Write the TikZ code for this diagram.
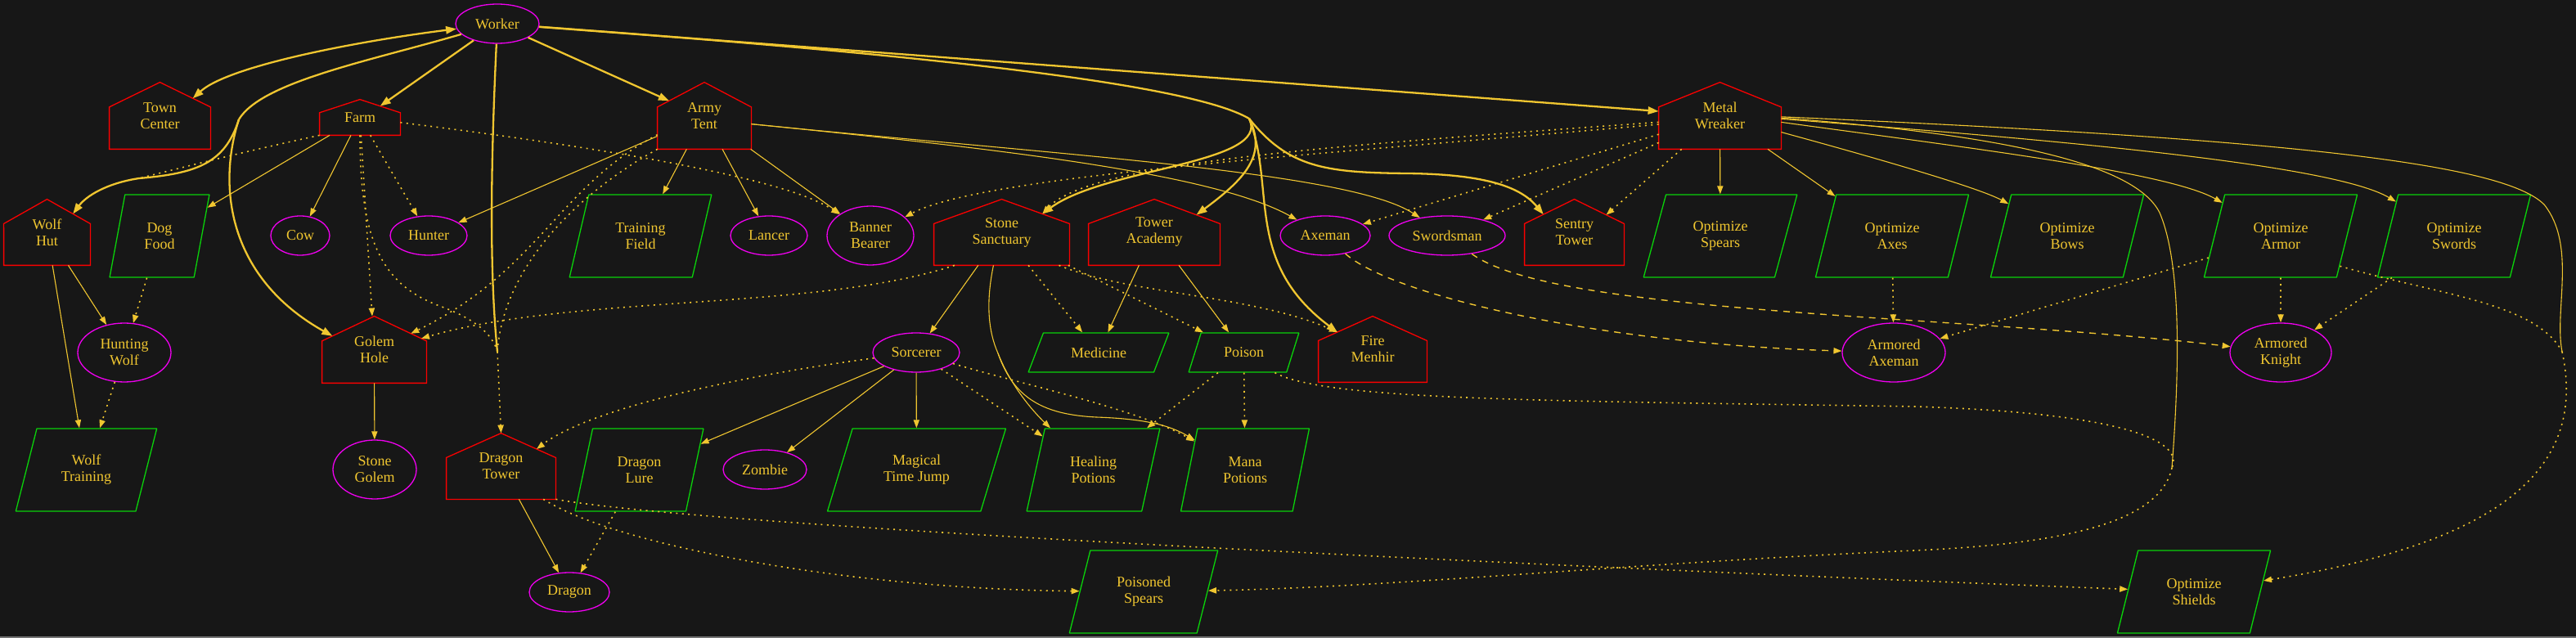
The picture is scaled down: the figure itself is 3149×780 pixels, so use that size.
\documentclass[tikz,border=0pt]{standalone}
\usepackage{fontspec}
\setmainfont{Liberation Serif}
\usetikzlibrary{arrows.meta, shapes.geometric, calc}
\definecolor{bgdark}{RGB}{23,23,23}
\definecolor{goldyellow}{RGB}{240,198,48}
\definecolor{housered}{RGB}{250,0,0}
\definecolor{unitmagenta}{RGB}{240,0,240}
\definecolor{techgreen}{RGB}{10,210,10}
\tikzset{housenode/.style={rectangle, draw=none, inner sep=0pt, text=goldyellow, font=\fontsize{9}{10}\selectfont, align=center},housebody/.style={draw=housered, line width=0.65pt, line join=miter}}
\tikzset{unitnode/.style={ellipse, draw=unitmagenta, line width=0.65pt, inner sep=0pt, text=goldyellow, font=\fontsize{9}{10}\selectfont, align=center}}
\tikzset{technode/.style={trapezium, trapezium left angle=#1, trapezium right angle={180-#1}, trapezium stretches=true, draw=techgreen, line width=0.65pt, inner sep=0pt, text=goldyellow, font=\fontsize{9}{10}\selectfont, align=center}}
\tikzset{thickline/.style={draw=goldyellow, line width=1.15pt, >={Triangle[length=6.5pt, width=4.6pt]}},thinline/.style={draw=goldyellow, line width=0.55pt, >={Triangle[length=5pt, width=3.6pt]}},dotline/.style={draw=goldyellow, line width=0.8pt, dash pattern=on 1pt off 2.7pt, >={Triangle[length=5pt, width=3.6pt]}},dashline/.style={draw=goldyellow, line width=0.7pt, dash pattern=on 4pt off 3.5pt, >={Triangle[length=5pt, width=3.6pt]}}}

\begin{document}
\begin{tikzpicture}[x=0.5pt, y=-0.5pt, line join=bevel]
        \useasboundingbox (0,0) rectangle (3149,780);
        \fill[bgdark] (0,0) rectangle (3149,780);
        \draw[black!55, line width=0.6pt] (0,779) -- (3149,779);
        % Buildings
        \node[housenode, minimum width=61.5pt, minimum height=40.5pt] (towncenter) at (195.5,141.5) {Town\\Center};
        \node[housenode, minimum width=49pt, minimum height=21.5pt] (farm) at (440,143.5) {Farm};
        \node[housenode, minimum width=57pt, minimum height=40.5pt] (armytent) at (861,141.5) {Army\\Tent};
        \node[housenode, minimum width=74.5pt, minimum height=40.5pt] (metalwreaker) at (2102.5,141.5) {Metal\\Wreaker};
        \node[housenode, minimum width=52.5pt, minimum height=40pt] (wolfhut) at (57.5,284) {Wolf\\Hut};
        \node[housenode, minimum width=82.5pt, minimum height=40pt] (stonesanctuary) at (1224.5,284) {Stone\\Sanctuary};
        \node[housenode, minimum width=80pt, minimum height=40pt] (toweracademy) at (1411,284) {Tower\\Academy};
        \node[housenode, minimum width=60.5pt, minimum height=40pt] (sentrytower) at (1924.5,284) {Sentry\\Tower};
        \node[housenode, minimum width=63.5pt, minimum height=40.5pt] (golemhole) at (457.5,427.5) {Golem\\Hole};
        \node[housenode, minimum width=66pt, minimum height=40pt] (firemenhir) at (1678,427) {Fire\\Menhir};
        \node[housenode, minimum width=66.5pt, minimum height=40pt] (dragontower) at (612.5,570) {Dragon\\Tower};
        \foreach \h in {towncenter, farm, armytent, metalwreaker, wolfhut, stonesanctuary, toweracademy, sentrytower, golemhole, firemenhir, dragontower} {
            \draw[housebody] (\h.south west) -- (\h.south east) -- ($(\h.south east)!.63!(\h.north east)$) coordinate (\h-r) -- (\h.north) -- ($(\h.south west)!.63!(\h.north west)$) coordinate (\h-l) -- cycle;
        }
        % Units
        \node[unitnode, minimum width=51pt, minimum height=24pt] (worker) at (608,29) {Worker};
        \node[unitnode, minimum width=36pt, minimum height=24pt] (cow) at (367,288) {Cow};
        \node[unitnode, minimum width=47pt, minimum height=24pt] (hunter) at (524,288) {Hunter};
        \node[unitnode, minimum width=47pt, minimum height=24pt] (lancer) at (940,288) {Lancer};
        \node[unitnode, minimum width=53pt, minimum height=36pt] (bannerbearer) at (1064,288) {Banner\\Bearer};
        \node[unitnode, minimum width=55pt, minimum height=24pt] (axeman) at (1620,288) {Axeman};
        \node[unitnode, minimum width=71pt, minimum height=24pt] (swordsman) at (1769,288) {Swordsman};
        \node[unitnode, minimum width=57pt, minimum height=36pt] (huntingwolf) at (152,431) {Hunting\\Wolf};
        \node[unitnode, minimum width=53pt, minimum height=24pt] (sorcerer) at (1120,431) {Sorcerer};
        \node[unitnode, minimum width=63pt, minimum height=36pt] (armoredaxeman) at (2315,431) {Armored\\Axeman};
        \node[unitnode, minimum width=62pt, minimum height=36pt] (armoredknight) at (2788,431) {Armored\\Knight};
        \node[unitnode, minimum width=51pt, minimum height=36pt] (stonegolem) at (458,574) {Stone\\Golem};
        \node[unitnode, minimum width=51pt, minimum height=24pt] (zombie) at (935,574) {Zombie};
        \node[unitnode, minimum width=49pt, minimum height=24pt] (dragon) at (696,724) {Dragon};
        % Technologies
        \node[technode=75.6, minimum width=61pt, minimum height=50.5pt] (dogfood) at (195,288.5) {Dog\\Food};
        \node[technode=70.4, minimum width=87pt, minimum height=50.5pt] (trainingfield) at (783,288.5) {Training\\Field};
        \node[technode=68.9, minimum width=94pt, minimum height=50.5pt] (optimizespears) at (2103,288.5) {Optimize\\Spears};
        \node[technode=68.9, minimum width=94pt, minimum height=50.5pt] (optimizeaxes) at (2313,288.5) {Optimize\\Axes};
        \node[technode=68.9, minimum width=94pt, minimum height=50.5pt] (optimizebows) at (2527,288.5) {Optimize\\Bows};
        \node[technode=68.9, minimum width=94pt, minimum height=50.5pt] (optimizearmor) at (2788,288.5) {Optimize\\Armor};
        \node[technode=68.9, minimum width=94pt, minimum height=50.5pt] (optimizeswords) at (3000,288.5) {Optimize\\Swords};
        \node[technode=53.9, minimum width=86pt, minimum height=24pt] (medicine) at (1343,431) {Medicine};
        \node[technode=59.7, minimum width=67.5pt, minimum height=24pt] (poison) at (1520.5,431) {Poison};
        \node[technode=70.4, minimum width=86.5pt, minimum height=50.5pt] (wolftraining) at (105.5,574.5) {Wolf\\Training};
        \node[technode=72.4, minimum width=78.5pt, minimum height=50.5pt] (dragonlure) at (781.5,574.5) {Dragon\\Lure};
        \node[technode=66.5, minimum width=109.5pt, minimum height=50.5pt] (magicaltimejump) at (1120.5,574.5) {Magical\\Time Jump};
        \node[technode=71.9, minimum width=81.5pt, minimum height=50.5pt] (healingpotions) at (1336.5,574.5) {Healing\\Potions};
        \node[technode=73.5, minimum width=78.5pt, minimum height=50.5pt] (manapotions) at (1522,574.5) {Mana\\Potions};
        \node[technode=70.4, minimum width=91pt, minimum height=50.5pt] (poisonedspears) at (1398,723.5) {Poisoned\\Spears};
        \node[technode=68.9, minimum width=94pt, minimum height=50.5pt] (optimizeshields) at (2682,723.5) {Optimize\\Shields};
        % Merge points
        \coordinate (wsplit) at (292,146);
        \coordinate (whmerge) at (170,218);
        \coordinate (dtmerge) at (608,430);
        \coordinate (wbranch) at (1527,145);
        \coordinate (sssplit) at (1220,432);
        \coordinate (psmerge) at (2655,572);
        \coordinate (osmerge) at (3132,430);
        % Worker
        \draw[thickline, <->] (worker) .. controls (440,50) and (280,80) .. ($(towncenter.north)!.65!(towncenter-r)$);
        \draw[thickline] (worker) .. controls (450,75) and (320,100) .. (wsplit);
        \draw[thickline, ->] (wsplit) .. controls (275,200) and (240,212) .. (whmerge) .. controls (130,224) and (105,240) .. ($(wolfhut.north)!.6!(wolfhut-r)$);
        \draw[thickline, ->] (wsplit) .. controls (265,230) and (280,340) .. ($(golemhole.north)!.8!(golemhole-l)$);
        \draw[thickline, ->] (worker) -- ($(farm.north)!.5!(farm-r)$);
        \draw[thickline, ->] (worker) -- ($(armytent.north)!.75!(armytent-l)$);
        \draw[thickline] (worker) .. controls (600,200) and (598,330) .. (dtmerge);
        \draw[thickline, ->] (worker) -- ($(metalwreaker-l)!.1!(metalwreaker.south west)$);
        \draw[thickline] (worker) .. controls (1100,65) and (1450,100) .. (wbranch);
        \draw[thickline, ->] (wbranch) .. controls (1555,200) and (1350,205) .. ($(stonesanctuary.north)!.6!(stonesanctuary-r)$);
        \draw[thickline, ->] (wbranch) .. controls (1550,190) and (1520,220) .. ($(toweracademy.north)!.64!(toweracademy-r)$);
        \draw[thickline, ->] (wbranch) .. controls (1560,230) and (1520,320) .. ($(firemenhir.north)!.65!(firemenhir-l)$);
        \draw[thickline, ->] (wbranch) .. controls (1575,205) and (1620,211) .. (1720,212) .. controls (1820,213) and (1860,230) .. ($(sentrytower.north)!.62!(sentrytower-l)$);
        % Farm
        \draw[thinline, ->] (farm) -- (cow);
        \draw[thinline, ->] (farm) -- (dogfood);
        \draw[dotline, ->] (farm) -- (hunter);
        \draw[dotline] (farm.south west) .. controls (300,185) and (230,203) .. (whmerge);
        \draw[dotline, ->] (farm) -- (golemhole);
        \draw[dotline] (farm) .. controls (440,300) and (470,350) .. (540,375) .. controls (580,390) and (602,408) .. (dtmerge);
        \draw[dotline, ->] (farm) .. controls (650,170) and (950,210) .. (bannerbearer);
        % Army Tent
        \draw[thinline, ->] (armytent) -- (trainingfield);
        \draw[thinline, ->] (armytent) -- (lancer);
        \draw[thinline, ->] (armytent) -- (bannerbearer);
        \draw[thinline, ->] (armytent) -- (hunter);
        \draw[thinline, ->] (armytent.-10) .. controls (1200,180) and (1480,210) .. (axeman);
        \draw[thinline, ->] (armytent.-10) .. controls (1300,190) and (1650,210) .. (swordsman);
        \draw[dotline, ->] (armytent.202) .. controls (680,230) and (660,330) .. ($(golemhole.north)!.7!(golemhole-r)$);
        \draw[dotline] (armytent.south west) .. controls (700,240) and (615,330) .. (dtmerge);
        \draw[dotline, ->] (dtmerge) -- (dragontower.north);
        % Stone Sanctuary
        \draw[thinline, ->] (stonesanctuary) -- (sorcerer);
        \draw[thinline] (stonesanctuary.-104) .. controls (1205,370) and (1208,405) .. (sssplit);
        \draw[thinline, ->] (sssplit) .. controls (1235,470) and (1260,500) .. (healingpotions);
        \draw[thinline, ->] (sssplit) .. controls (1240,490) and (1280,507) .. (1340,510) .. controls (1400,512) and (1430,520) .. (manapotions);
        \draw[dotline, ->] (stonesanctuary) -- (medicine);
        \draw[dotline, ->] (stonesanctuary) -- (poison);
        \draw[dotline, ->] (stonesanctuary.-30) .. controls (1380,360) and (1530,360) .. ($(firemenhir.north)!.65!(firemenhir-l)$);
        \draw[dotline, ->] (stonesanctuary.-145) .. controls (1000,380) and (700,360) .. ($(golemhole.north)!.9!(golemhole-r)$);
        % Tower Academy
        \draw[thinline, ->] (toweracademy) -- (medicine);
        \draw[thinline, ->] (toweracademy) -- (poison);
        % Sorcerer
        \draw[thinline, ->] (sorcerer) -- (dragonlure);
        \draw[thinline, ->] (sorcerer) -- (zombie);
        \draw[thinline, ->] (sorcerer) -- (magicaltimejump);
        \draw[dotline, ->] (sorcerer) -- (healingpotions);
        \draw[dotline, ->] (sorcerer) .. controls (1250,470) and (1390,500) .. (manapotions);
        \draw[dotline, ->] (sorcerer) .. controls (900,460) and (720,500) .. ($(dragontower.north)!.65!(dragontower-r)$);
        % Poison
        \draw[dotline, ->] (poison) -- (healingpotions);
        \draw[dotline, ->] (poison) -- (manapotions);
        \draw[dotline] (poison.-33) .. controls (1620,490) and (1900,490) .. (2340,497) .. controls (2600,505) and (2670,540) .. (psmerge);
        \draw[dotline, ->] (psmerge) .. controls (2640,640) and (2520,665) .. (2340,673) .. controls (2000,688) and (1700,718) .. (poisonedspears);
        % Metal Wreaker
        \draw[thinline, ->] (metalwreaker) -- (optimizespears);
        \draw[thinline, ->] (metalwreaker) -- (optimizeaxes);
        \draw[thinline, ->] (metalwreaker.-15) .. controls (2300,195) and (2420,230) .. (optimizebows);
        \draw[thinline, ->] (metalwreaker.-6) .. controls (2400,180) and (2650,210) .. (optimizearmor);
        \draw[thinline, ->] (metalwreaker.-3) .. controls (2500,170) and (2850,200) .. (optimizeswords);
        \draw[thinline] (metalwreaker.-2) .. controls (2450,165) and (2610,200) .. (2640,260) .. controls (2670,330) and (2662,480) .. (psmerge);
        \draw[thinline] (metalwreaker.-1) .. controls (2800,170) and (3060,200) .. (3110,250) .. controls (3150,300) and (3122,380) .. (osmerge);
        \draw[dotline, ->] (metalwreaker.188) .. controls (1600,190) and (1200,215) .. (bannerbearer);
        \draw[dotline, ->] (metalwreaker.186) .. controls (1600,180) and (1330,200) .. ($(stonesanctuary.north)!.6!(stonesanctuary-r)$);
        \draw[dotline, ->] (metalwreaker) -- (axeman);
        \draw[dotline, ->] (metalwreaker) -- (swordsman);
        \draw[dotline, ->] (metalwreaker) -- ($(sentrytower.north)!.64!(sentrytower-r)$);
        % Optimizations
        \draw[dotline, ->] (optimizeaxes) -- (armoredaxeman);
        \draw[dotline, ->] (optimizearmor) -- (armoredaxeman);
        \draw[dotline, ->] (optimizearmor) -- (armoredknight);
        \draw[dotline, ->] (optimizeswords) -- (armoredknight);
        \draw[dotline] (optimizearmor.-27) .. controls (2980,360) and (3100,370) .. (osmerge);
        \draw[dotline, ->] (osmerge) .. controls (3160,560) and (3080,660) .. (optimizeshields);
        \draw[dashline, ->] (axeman) .. controls (1700,360) and (1950,420) .. (armoredaxeman);
        \draw[dashline, ->] (swordsman) .. controls (1900,385) and (2400,385) .. (armoredknight);
        % Wolves, golems, dragons
        \draw[thinline, ->] (wolfhut) -- (huntingwolf);
        \draw[thinline, ->] (wolfhut) -- (wolftraining);
        \draw[dotline, ->] (dogfood) -- (huntingwolf);
        \draw[dotline, ->] (huntingwolf) -- (wolftraining);
        \draw[thinline, ->] (golemhole) -- (stonegolem);
        \draw[thinline, ->] (dragontower) -- (dragon);
        \draw[dotline, ->] (dragonlure) -- (dragon);
        \draw[dotline, ->] (dragontower.-38) .. controls (760,670) and (1050,720) .. (poisonedspears);
        \draw[dotline, ->] (dragontower.south east) .. controls (900,650) and (2200,705) .. (optimizeshields);
\end{tikzpicture}
\end{document}
